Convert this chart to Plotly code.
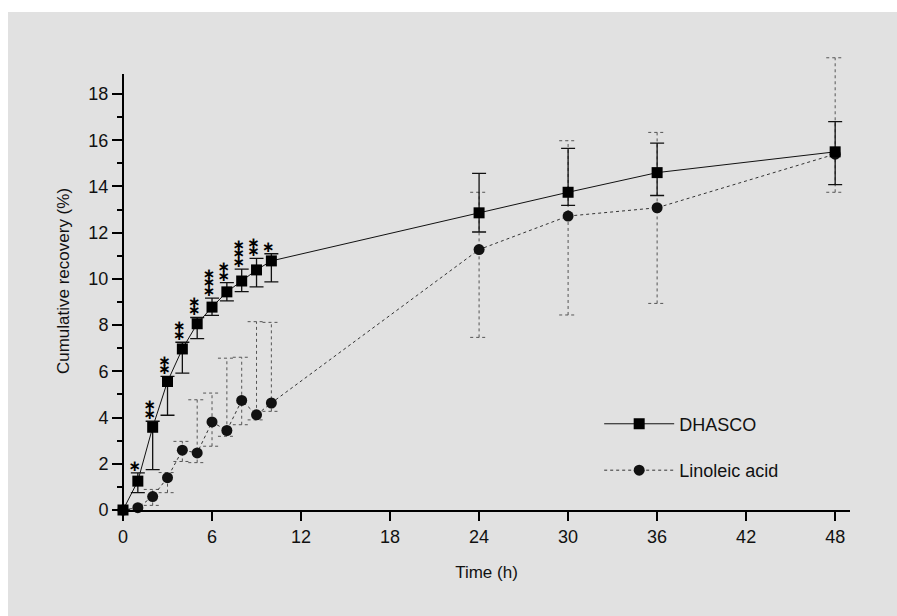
import plotly.graph_objects as go

# ---- data ----
time_h = [0, 1, 2, 3, 4, 5, 6, 7, 8, 9, 10, 24, 30, 36, 48]

dhasco = [0, 1.25, 3.58, 5.56, 6.97, 8.06, 8.78, 9.44, 9.91, 10.39, 10.78, 12.86, 13.75, 14.60, 15.50]
dhasco_hi = [0, 1.61, 3.84, 5.78, 7.26, 8.33, 9.17, 9.84, 10.42, 10.89, 11.09, 14.57, 15.65, 15.88, 16.81]
dhasco_lo = [0, 0.75, 1.75, 4.10, 5.92, 7.42, 8.42, 9.05, 9.45, 9.66, 9.87, 12.03, 13.18, 13.61, 14.08]

linoleic = [0, 0.10, 0.58, 1.40, 2.59, 2.47, 3.81, 3.44, 4.74, 4.12, 4.63, 11.27, 12.72, 13.08, 15.40]
linoleic_hi = [0, 0.25, 0.89, 1.62, 2.97, 4.77, 5.06, 6.57, 6.61, 8.15, 8.12, 13.75, 15.98, 16.34, 19.57]
linoleic_lo = [0, 0.00, 0.20, 0.75, 2.10, 2.05, 2.76, 3.19, 3.69, 3.90, 4.27, 7.47, 8.44, 8.94, 13.75]

sig_stars = [0, 1, 2, 2, 2, 2, 3, 2, 3, 2, 1, 0, 0, 0, 0]

x_ticks = [0, 6, 12, 18, 24, 30, 36, 42, 48]
y_ticks = [0, 2, 4, 6, 8, 10, 12, 14, 16, 18]
y_minor = [1, 3, 5, 7, 9, 11, 13, 15, 17]
y_axis_top = 18.87   # drawn length of the y axis line
y_view_top = 19.82   # room above the axis for the tallest error bar

FONT = "Liberation Sans, Arial, sans-serif"
GREY = "#e1e1e1"

fig = go.Figure()

# Linoleic acid error bars (dotted), built from the data arrays
cap = 0.6
ex, ey = [], []
for t, lo, hi in zip(time_h, linoleic_lo, linoleic_hi):
    if hi - lo <= 0.3:
        continue
    ex += [t, t, None, t - cap, t + cap, None, t - cap, t + cap, None]
    ey += [lo, hi, None, hi, hi, None, lo, lo, None]
fig.add_trace(go.Scatter(x=ex, y=ey, mode="lines", showlegend=False, hoverinfo="skip",
                         line=dict(color="#555555", width=1, dash="dot")))

# Linoleic acid series
fig.add_trace(go.Scatter(
    x=time_h, y=linoleic, name="Linoleic acid", mode="lines+markers",
    line=dict(color="#333333", width=1, dash="dot"),
    marker=dict(symbol="circle", size=11, color="#111111"),
    cliponaxis=False, legendrank=2, legendgroup="b"))

# DHASCO series with asymmetric error bars
fig.add_trace(go.Scatter(
    x=time_h, y=dhasco, name="DHASCO", mode="lines+markers",
    line=dict(color="#111111", width=1),
    marker=dict(symbol="square", size=11, color="#000000"),
    error_y=dict(type="data", symmetric=False,
                 array=[h - m for h, m in zip(dhasco_hi, dhasco)],
                 arrayminus=[m - l for m, l in zip(dhasco, dhasco_lo)],
                 color="#111111", thickness=1.3, width=7),
    cliponaxis=False, legendrank=1, legendgroup="a"))

# significance stars above DHASCO upper error bars
sx, sy = [], []
for t, hi, n in zip(time_h, dhasco_hi, sig_stars):
    for k in range(n):
        sx.append(t - 0.2)
        sy.append(hi + 0.25 + 0.38 * k)
fig.add_trace(go.Scatter(x=sx, y=sy, mode="text", text=["∗"] * len(sx),
                         textfont=dict(family="DejaVu Sans", size=15, color="#000000", weight="bold"),
                         textposition="middle center", showlegend=False, hoverinfo="skip",
                         cliponaxis=False))

ml, mr, mt, mb = 123, 47, 52, 106
pw, ph = 897 - ml - mr, 616 - mt - mb

fig.update_layout(
    width=897, height=616,
    margin=dict(l=ml, r=mr, t=mt, b=mb, pad=0),
    paper_bgcolor=GREY, plot_bgcolor=GREY,
    font=dict(family=FONT, color="#111111", size=18),
    showlegend=True,
    legend=dict(x=0.655, y=0.228, xanchor="left", yanchor="top",
                bgcolor="rgba(0,0,0,0)", font=dict(size=18, family=FONT),
                tracegroupgap=20, itemwidth=70),
    shapes=[
        dict(type="rect", xref="paper", yref="paper", layer="below",
             x0=-1, x1=2, y0=1 + (mt - 12) / ph, y1=1 + mt / ph + 0.05,
             fillcolor="white", line=dict(width=0)),
        dict(type="rect", xref="paper", yref="paper", layer="below",
             x0=-ml / pw - 0.05, x1=-(ml - 8) / pw, y0=-1, y1=2,
             fillcolor="white", line=dict(width=0)),
        # y axis line, only up to the axis top of the reference
        dict(type="line", xref="paper", yref="y", layer="above",
             x0=0, x1=0, y0=0, y1=y_axis_top, line=dict(color="#000000", width=2)),
    ],
)

fig.update_xaxes(
    range=[0, 49], tickvals=x_ticks, ticktext=[str(v) for v in x_ticks],
    showgrid=False, zeroline=False, showline=True, linecolor="#000000", linewidth=2,
    ticks="outside", ticklen=9, tickwidth=1.5, tickcolor="#000000",
    tickfont=dict(size=18, family=FONT),
    title=dict(text="Time (h)", font=dict(size=17, family=FONT), standoff=21),
)
fig.update_yaxes(
    range=[0, y_view_top], tickvals=y_ticks, ticktext=[str(v) for v in y_ticks],
    showgrid=False, zeroline=False, showline=False,
    ticks="outside", ticklen=10, tickwidth=1.5, tickcolor="#000000",
    minor=dict(tickvals=y_minor, ticks="outside", ticklen=5, tickwidth=1.5, tickcolor="#000000"),
    tickfont=dict(size=18, family=FONT),
    title=dict(text="Cumulative recovery (%)", font=dict(size=17, family=FONT), standoff=14),
)

fig.write_html("out.html")
